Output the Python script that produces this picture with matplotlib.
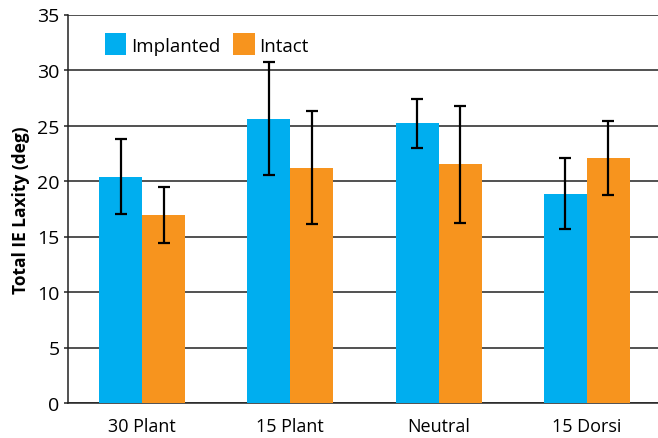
import matplotlib
matplotlib.use("Agg")
import matplotlib.pyplot as plt
import numpy as np

categories = ["30 Plant", "15 Plant", "Neutral", "15 Dorsi"]
implanted = [20.4, 25.6, 25.2, 18.85]
implanted_err = [3.35, 5.1, 2.2, 3.2]
intact = [16.95, 21.2, 21.5, 22.1]
intact_err = [2.55, 5.1, 5.3, 3.35]
series_names = ["Implanted", "Intact"]
yticks = [0, 5, 10, 15, 20, 25, 30, 35]

plt.rcParams['font.family'] = ['Open Sans', 'DejaVu Sans']

fig = plt.figure(figsize=(6.58, 4.39), dpi=100)
ax = fig.add_axes([68/658, 1-404/439, 1-68/658, (404-15.5)/439])

x = np.arange(len(categories))
w = 0.29
blue = "#00AEEF"
orange = "#F7941E"
ekw = dict(elinewidth=1.6, capthick=1.6, ecolor="black")
ax.bar(x - w/2, implanted, w, color=blue, label=series_names[0], zorder=3,
       yerr=implanted_err, capsize=4, error_kw=ekw)
ax.bar(x + w/2, intact, w, color=orange, label=series_names[1], zorder=3,
       yerr=intact_err, capsize=4, error_kw=ekw)

ax.set_xlim(-0.5, 3.48)
ax.set_ylim(0, 35)
ax.set_yticks(yticks)
ax.set_xticks(x)
ax.set_xticklabels(categories)
ax.yaxis.grid(True, color="#222222", linewidth=1.1, zorder=0)
ax.set_axisbelow(True)
for s in ["top", "right"]:
    ax.spines[s].set_visible(False)
ax.spines["left"].set_color("#222222")
ax.spines["bottom"].set_color("#222222")
ax.spines["left"].set_linewidth(1.1)
ax.spines["bottom"].set_linewidth(1.1)
ax.tick_params(axis="y", length=3, width=1.1, color="#222222", labelsize=14, pad=3)
ax.tick_params(axis="x", length=0, labelsize=13, pad=10)
ax.set_ylabel("Total IE Laxity (deg)", fontsize=12.5, fontweight="bold", labelpad=5)

ax.legend(loc="upper left", bbox_to_anchor=(0.04, 0.985), ncol=2, frameon=False,
          fontsize=13.5, handlelength=1.15, handleheight=1.4, handletextpad=0.25,
          columnspacing=0.7, borderaxespad=0.3)

fig.savefig("out.png", dpi=100)
